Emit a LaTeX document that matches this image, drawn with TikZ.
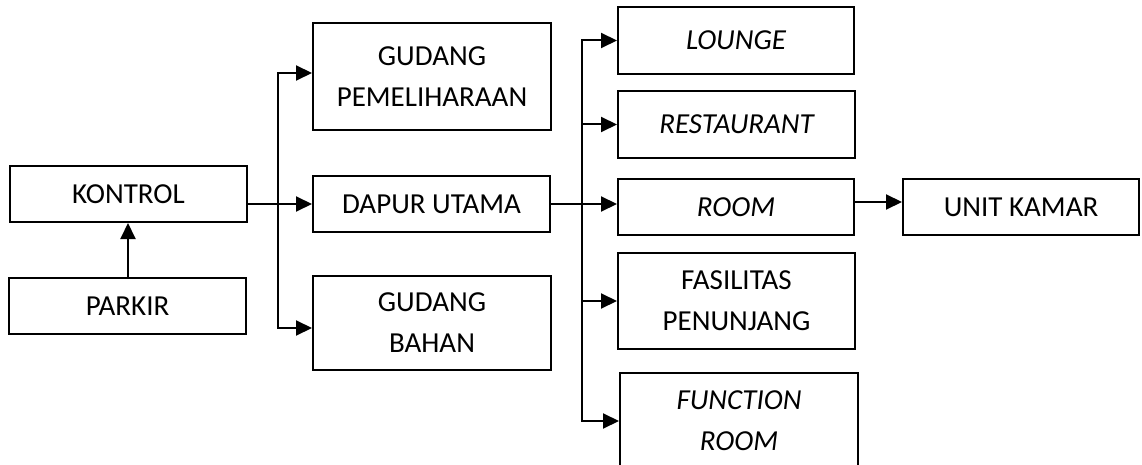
\documentclass[tikz,border=0pt]{standalone}
\usepackage{fontspec}
\setmainfont{Carlito}
\usetikzlibrary{arrows.meta}
\begin{document}
\begin{tikzpicture}[x=1pt,y=-1pt,
  box/.style={draw,line width=2pt,inner sep=0pt,align=center,
    font=\fontsize{29pt}{41pt}\selectfont},
  arr/.style={line width=2pt,-{Triangle[length=16pt,width=15pt]}}]
\useasboundingbox (0,0) rectangle (1142,465);
\node[box,minimum width=237pt,minimum height=56pt] (kontrol) at (128.5,194) {KONTROL};
\node[box,minimum width=237pt,minimum height=56pt] (parkir) at (127.5,306) {PARKIR};
\node[box,minimum width=238pt,minimum height=107pt] (gpem) at (432,76.5) {GUDANG\\PEMELIHARAAN};
\node[box,minimum width=237pt,minimum height=56pt] (dapur) at (431.5,204) {DAPUR UTAMA};
\node[box,minimum width=238pt,minimum height=94pt] (gbahan) at (432,323) {GUDANG\\BAHAN};
\node[box,minimum width=236pt,minimum height=67pt] (lounge) at (736,40.5) {\itshape LOUNGE};
\node[box,minimum width=237pt,minimum height=67pt] (resto) at (736.5,124.5) {\itshape RESTAURANT};
\node[box,minimum width=236pt,minimum height=56pt] (room) at (736,207) {\itshape ROOM};
\node[box,minimum width=237pt,minimum height=96pt] (fasil) at (736.5,301) {FASILITAS\\PENUNJANG};
\node[box,minimum width=238pt,minimum height=96pt] (func) at (739,421) {\itshape FUNCTION\\\itshape ROOM};
\node[box,minimum width=236pt,minimum height=56pt] (unit) at (1021,207) {UNIT KAMAR};
% connectors
\draw[arr] ([xshift=0.5pt]parkir.north) -- ([xshift=0.5pt]parkir.north |- kontrol.south);
\draw[arr] (kontrol.east |- dapur.west) -- (dapur.west);
\coordinate (b1) at (278,204);
\draw[arr] (b1) |- ([yshift=3.5pt]gpem.west);
\draw[arr] (b1) |- ([yshift=-5pt]gbahan.west);
\draw[arr] (dapur.east) -- (dapur.east -| room.west);
\coordinate (b2) at (582,204);
\draw[arr] (b2) |- (lounge.west);
\draw[arr] (b2) |- (resto.west);
\draw[arr] (b2) |- (fasil.west);
\draw[arr] (b2) |- (func.west);
\draw[arr] ([yshift=5pt]room.east) -- ([yshift=5pt]room.east -| unit.west);
\end{tikzpicture}
\end{document}
